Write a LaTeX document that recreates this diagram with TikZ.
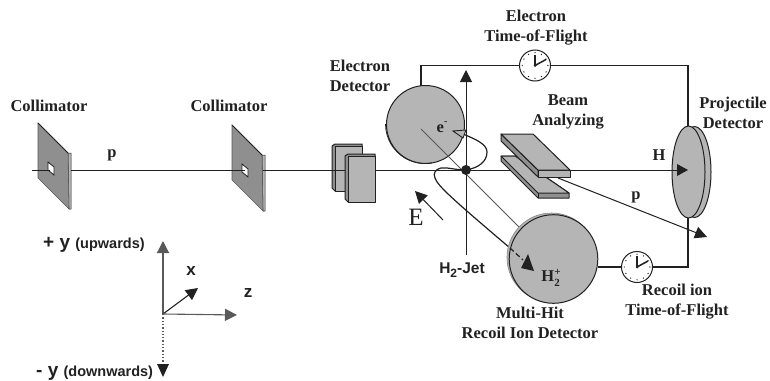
\documentclass[tikz,border=0pt]{standalone}
\usepackage{fontspec}
\setmainfont{Liberation Serif}
\newfontfamily\sansb{Liberation Sans}
\usetikzlibrary{arrows.meta,calc}
\definecolor{gfill}{gray}{0.71}
\definecolor{gdark}{gray}{0.56}
\definecolor{gline}{gray}{0.13}
\definecolor{gaxis}{gray}{0.35}
\tikzset{
  x=1pt,y=-1pt,
  lbl/.style={font=\fontsize{16.5}{20}\selectfont\bfseries,align=center,text=gline,inner sep=0pt},
  axl/.style={text=gline,inner sep=0pt},
  wire/.style={line width=1.2pt,draw=gline},
  beam/.style={line width=1pt,draw=gline},
  tip/.style={-{Triangle[length=12pt,width=12pt]}},
  solidbox/.style={fill=gfill,draw=gline,line width=1pt,line join=round},
  sidebox/.style={fill=gdark,draw=gline,line width=1pt,line join=round},
  disc/.style={fill=gfill,draw=gline,line width=1pt},
}
\newcommand{\clockat}[2]{%
  \fill[white,draw=gline,line width=1pt] (#1,#2) circle (15.5);
  \foreach \a in {0,30,...,330}{\fill[gline] ($(#1,#2)+(\a:12.8)$) circle (.7);}
  \draw[line width=1.5pt,gline] (#1,#2) -- ++(0,-11);
  \draw[line width=1.5pt,gline] (#1,#2) -- ++(11,-6);
  \fill[gline] (#1,#2) circle (1.5);
}
\newcommand{\collim}[2]{%
  \begin{scope}[shift={(#1,#2)}]
  \fill[gfill,draw=gline,line width=.5pt] (30,30)--(33,30)--(33,86)--(31,86)--cycle;
  \fill[gdark,draw=gdark!50!gline,line width=.6pt] (0,0)--(30,30)--(31,86)--(0,55)--cycle;
  \draw[gline,line width=1pt] (0,0)--(30,30);
  \fill[white,draw=gline,line width=.8pt] (10,39)--(16,44)--(16,52)--(10,47)--cycle;
  \end{scope}}
\begin{document}
\begin{tikzpicture}
\useasboundingbox (0,0) rectangle (770,380);
\fill[white] (0,0) rectangle (770,380);

% labels
\node[lbl] (c1) at (49,106) {Collimator};
\node[lbl] (c2) at (229,106) {Collimator};
\node[lbl] (pa) at (112,155) {p};

% collimators and beam
\collim{38}{123}
\collim{232}{125}
\coordinate (b0) at (32,170);
\coordinate (b1) at (50,170);
\coordinate (b2) at (71,170);
\coordinate (b3) at (245,170);
\coordinate (b4) at (263,170);
\coordinate (b5) at (345,170);
\coordinate (b6) at (375,170);
\coordinate (bend) at (677,170);
\draw[beam] (b0) -- (b1);
\draw[beam] (b2) -- (b3);
\draw[beam] (b4) -- (b5);
\draw[beam] (b6) -- (bend);

% blocks
\fill[sidebox] (332,146)--(335,144)--(362,144)--(362,191)--(335,191)--(332,188)--cycle;
\draw[solidbox] (335,146)--(362,146)--(362,191)--(335,191)--cycle;
\draw[beam] (320,170)--(b5);
\fill[sidebox] (345,156)--(348,154)--(375,154)--(375,202)--(348,202)--(345,199)--cycle;
\draw[solidbox] (348,156.5)--(375,156.5)--(375,202)--(348,202)--cycle;

% electron detector
\draw[disc] (425.5,124.5) circle (39);
\draw[gline,line width=.8pt] (385.5,124) arc (180:80:39.5);
\node[lbl] (ed) at (360,75.5) {Electron\\Detector};
\node[lbl] (em) at (442,127) {e\raisebox{.45em}{\fontsize{10}{10}\selectfont -}};

% wire electron TOF
\coordinate (w1) at (421,86);
\coordinate (w2) at (421,65.5);
\coordinate (w3) at (688,65.5);
\coordinate (w4) at (688,127);
\draw[wire] (w1)--(w2)--(w3)--(w4);
\clockat{535}{65.5}
\node[lbl] (et) at (536,28) {Electron\\Time-of-Flight};

% jet
\coordinate (j0) at (466,255);
\coordinate (j1) at (466,70);
\draw[beam,tip] (j0)--(j1);
\node[axl,font=\sansb\bfseries\fontsize{15.5}{17}\selectfont] (jet) at (462,270) {H\raisebox{-.25em}{\fontsize{12}{12}\selectfont 2}-Jet};

% diagonal
\coordinate (d0) at (421,129);
\coordinate (d1) at (520,228);
\draw[gline!75,line width=.8pt] (d0)--(d1);

% interaction point
\fill[gline] (466,170) circle (5);

% electron path
\draw[gline,line width=1.2pt] (466,170) .. controls (478,168) and (487,162) .. (487,152) .. controls (487,144) and (475,139) .. (463,134);
\fill[gfill,draw=gline,line width=.9pt] (453,131)--(466,130)--(463,138)--cycle;
% ion path
\draw[gline,line width=1.2pt] (466,170) .. controls (455,170) and (447,167) .. (441,168) .. controls (435,169) and (433,174) .. (435,178) .. controls (438,186) and (450,197) .. (510,248);

% H2+ detector
\fill[gfill,draw=gline!55,line width=.6pt] (551.5,257.5) circle (44.5);
\draw[disc] (553.5,259) circle (44.3);
\draw[gline,line width=1.2pt,dash pattern=on 5pt off 3pt] (510,248)--(523,260);
\fill[gline] (534,271)--(528,254)--(521,268)--cycle;
\node[lbl] (h2p) at (551,278) {H\raisebox{-.3em}{\fontsize{11}{11}\selectfont 2}\raisebox{.4em}{\fontsize{11}{11}\selectfont\hspace{-.5em}+}};
\node[lbl] (mh) at (530,323) {Multi-Hit\\Recoil Ion Detector};

% analysing plates
\fill[sidebox] (501,156)--(501,161)--(538,198)--(569,198)--(569,193)--(515,156)--cycle;
\draw[solidbox] (501,156)--(515,156)--(569,193)--(538,193)--cycle;
\draw[gline,line width=1pt] (538,193)--(538,198);
\coordinate (p0) at (558,178);
\coordinate (p1) at (707,237);
\draw[beam,tip] (p0)--(p1);
\fill[gdark,draw=gline,line width=1pt,line join=round] (501,134)--(501,141)--(538,177)--(538,170)--cycle;
\draw[solidbox] (538,170)--(570,170)--(570,177)--(538,177)--cycle;
\draw[solidbox] (501,134)--(533,134)--(570,170)--(538,170)--cycle;
\node[lbl] (ba) at (568,112) {Beam\\Analyzing};
\node[lbl] (pb) at (636,197) {p};

% projectile detector
\draw[disc] (694.5,172) ellipse (16.5 and 45.5);
\draw[disc] (688.5,172) ellipse (16.5 and 46);
\draw[beam] (660,170)--(bend);
\fill[gline] (688,170)--(677,164)--(677,176)--cycle;
\node[lbl] (H) at (659,155) {H};
\node[lbl] (Pd) at (733,113) {Projectile\\Detector};

% recoil TOF
\coordinate (r1) at (598,267);
\coordinate (r2) at (688,267);
\coordinate (r3) at (688,218);
\draw[wire] (r1)--(r2)--(r3);
\clockat{637}{267}
\node[lbl] (rt) at (677,302) {Recoil ion\\Time-of-Flight};

% E
\coordinate (e0) at (443,220);
\coordinate (e1) at (415,191);
\draw[beam,tip] (e0)--(e1);
\node[font=\fontsize{25}{27}\selectfont,text=gline,inner sep=0pt] (E) at (416,217) {E};

% axes
\coordinate (o) at (163,314);
\coordinate (yu) at (163,241);
\coordinate (yd) at (163,364);
\coordinate (xa) at (198,288);
\coordinate (za) at (237,315);
\draw[gaxis,line width=1.3pt,dotted] (o)--(yd);
\fill[gline] (157,364)--(169,364)--(163,377)--cycle;
\draw[gaxis,line width=1.3pt,tip] (o)--(yu);
\draw[gline,line width=1.1pt,tip] (o)--(xa);
\draw[gaxis,line width=1.1pt,tip] (o)--(za);
\node[axl,font=\sansb\bfseries\fontsize{17}{19}\selectfont] (xl) at (191,271) {x};
\node[axl,font=\sansb\bfseries\fontsize{17}{19}\selectfont] (zl) at (248,293) {z};
\node[axl,anchor=west,font=\sansb\bfseries] (yp) at (43,245) {\fontsize{19}{20}\selectfont + y \fontsize{14.5}{16}\selectfont (upwards)};
\node[axl,anchor=west,font=\sansb\bfseries] (ym) at (36,373) {\fontsize{19}{20}\selectfont - y \fontsize{14.5}{16}\selectfont (downwards)};
\end{tikzpicture}
\end{document}
